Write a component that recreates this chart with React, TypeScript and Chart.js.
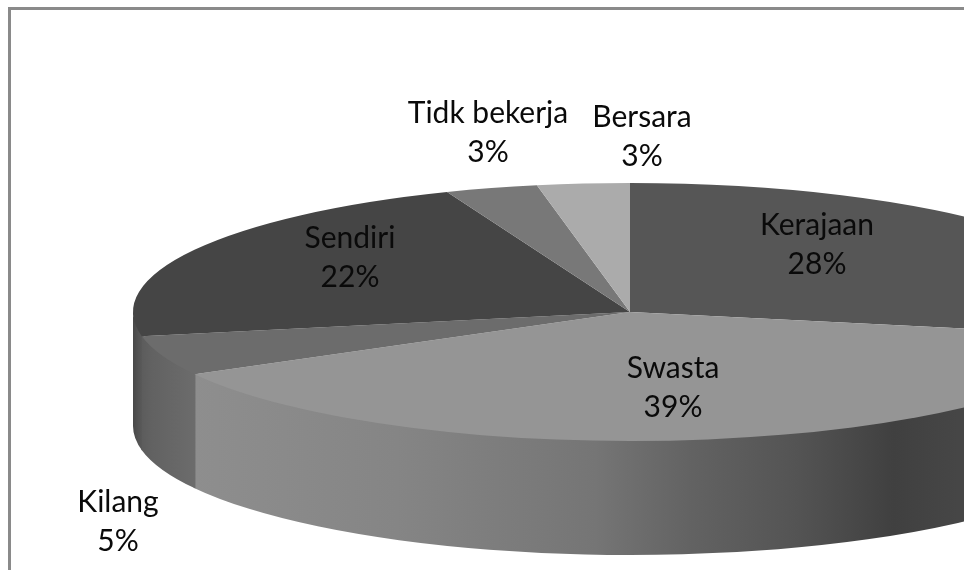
import React, { useEffect, useRef } from "react";
import { Chart, registerables } from "chart.js";

Chart.register(...registerables);

const categories = ["Kerajaan", "Swasta", "Kilang", "Sendiri", "Tidk bekerja", "Bersara"];
const shares = [28, 39, 5, 22, 3, 3];
const topColors = ["#565656", "#959595", "#6c6c6c", "#454545", "#787878", "#ababab"];
const wallStops: [number, string][][] = [
  [[0, "#444444"], [1, "#404040"]],
  [[0, "#8e8e8e"], [0.22, "#858585"], [0.435, "#757575"], [0.54, "#626262"], [0.65, "#545454"], [0.757, "#404040"], [0.826, "#464646"], [1, "#464646"]],
  [[0, "#5c5c5c"], [0.2, "#626262"], [1, "#6c6c6c"]],
  [[0, "#484848"], [1, "#5a5a5a"]],
  [[0, "#666666"], [1, "#666666"]],
  [[0, "#888888"], [1, "#888888"]],
];
const labelCentres = [[817, 225], [673, 368], [118, 502], [350, 238], [488, 113], [642, 117]];

const ORIGIN_X = 11;
const ORIGIN_Y = 10;
const W = 953;
const H = 560;
const RX = 497;
const RY = 129;
const DEPTH = 114;
const SQUASH = RY / RX;
const LINE_GAP = 39;
const TWO_PI = Math.PI * 2;
const OVERLAP = 0.004;
const TUCK = 2;

const pie3d = {
  id: "pie3d",
  beforeDatasetsDraw(chart: any) {
    const ctx = chart.ctx;
    const arcs = chart.getDatasetMeta(0).data;
    const cx = arcs[0].x;
    const cy = arcs[0].y;
    const baseY = (a: number) => cy + RY * Math.sin(a);
    arcs.forEach((arc: any, i: number) => {
      // visible front half of the wall: canvas angles 0..PI
      for (const shift of [0, TWO_PI, -TWO_PI]) {
        const a0 = Math.max(arc.startAngle + shift - OVERLAP, 0);
        const a1 = Math.min(arc.endAngle + shift + OVERLAP, Math.PI);
        if (a1 <= a0) continue;
        const xa = cx + RX * Math.cos(a0);
        const xb = cx + RX * Math.cos(a1);
        const g = ctx.createLinearGradient(Math.min(xa, xb), 0, Math.max(xa, xb), 0);
        wallStops[i].forEach(([s, c]) => g.addColorStop(s, c));
        ctx.save();
        ctx.beginPath();
        ctx.ellipse(cx, cy - TUCK, RX, RY, 0, a0, a1, false);
        ctx.lineTo(cx + RX * Math.cos(a1), baseY(a1) + DEPTH);
        ctx.ellipse(cx, cy + DEPTH, RX, RY, 0, a1, a0, true);
        ctx.closePath();
        ctx.fillStyle = g;
        ctx.fill();
        ctx.restore();
      }
    });
    ctx.save();
    ctx.translate(0, cy);
    ctx.scale(1, SQUASH);
    ctx.translate(0, -cy);
  },
  afterDatasetsDraw(chart: any) {
    const ctx = chart.ctx;
    ctx.restore();
    ctx.save();
    ctx.fillStyle = "#0a0a0a";
    ctx.font = '30px Lato, "Open Sans", sans-serif';
    ctx.textAlign = "center";
    ctx.textBaseline = "middle";
    categories.forEach((name, i) => {
      const [x, y] = labelCentres[i];
      ctx.fillText(name, x - ORIGIN_X, y - ORIGIN_Y);
      ctx.fillText(`${shares[i]}%`, x - ORIGIN_X, y - ORIGIN_Y + LINE_GAP);
    });
    ctx.restore();
  },
};

export default function App() {
  const ref = useRef<HTMLCanvasElement>(null);
  useEffect(() => {
    const chart = new Chart(ref.current as HTMLCanvasElement, {
      type: "pie",
      data: {
        labels: categories,
        datasets: [{ data: shares, backgroundColor: topColors, borderWidth: 0, clip: false } as any],
      },
      options: {
        animation: false,
        responsive: false,
        radius: RX,
        layout: { padding: { left: 285, right: 0, top: 44, bottom: 0 } },
        plugins: { legend: { display: false }, tooltip: { enabled: false }, title: { display: false } },
      } as any,
      plugins: [pie3d],
    });
    return () => chart.destroy();
  }, []);
  return (
    <div
      style={{
        position: "absolute",
        left: 8,
        top: 7,
        width: 956,
        height: 563,
        boxSizing: "border-box",
        borderTop: "3px solid #8a8a8a",
        borderLeft: "3px solid #8a8a8a",
        overflow: "hidden",
        background: "#fff",
      }}
    >
      <canvas ref={ref} width={W} height={H} style={{ display: "block" }} />
    </div>
  );
}
